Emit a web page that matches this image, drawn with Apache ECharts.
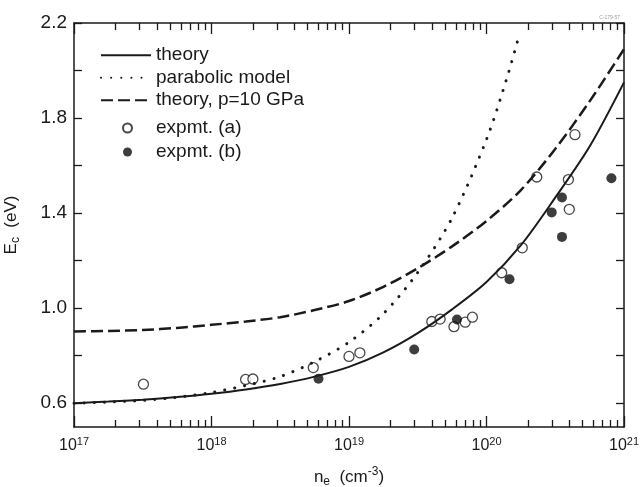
<!DOCTYPE html>
<html>
<head>
<meta charset="utf-8">
<script src="https://cdn.jsdelivr.net/npm/echarts@6/dist/echarts.min.js"></script>
<style>
  html, body { margin: 0; padding: 0; background: #fff; }
  #chart { width: 644px; height: 487px; }
</style>
</head>
<body>
<div id="chart"></div>
<script>
// Electron density (cm^-3), quarter-decade steps, for the model curves
const curveDensity = [1e17, 1.78e17, 3.16e17, 5.62e17, 1e18, 1.78e18, 3.16e18, 5.62e18, 1e19,
                      1.78e19, 3.16e19, 5.62e19, 1e20, 1.78e20, 3.16e20, 5.62e20, 1e21];
// Critical energy E_c (eV), theory at ambient pressure
const theoryEc = [0.600, 0.607, 0.615, 0.626, 0.640, 0.658, 0.681, 0.712, 0.753,
                  0.814, 0.895, 0.995, 1.110, 1.265, 1.465, 1.680, 1.950];
// Theory at p = 10 GPa
const pressureEc = [0.902, 0.904, 0.908, 0.917, 0.930, 0.944, 0.962, 0.992, 1.030,
                    1.090, 1.168, 1.260, 1.367, 1.497, 1.670, 1.870, 2.090];
// Parabolic-band model (leaves the frame near 2e20)
const parabolicDensity = [1e17, 1.78e17, 3.16e17, 5.62e17, 1e18, 1.78e18, 3.16e18, 5.62e18, 1e19,
                          1.78e19, 3.16e19, 5.62e19, 1e20, 1.41e20, 1.75e20];
const parabolicEc = [0.600, 0.605, 0.612, 0.625, 0.645, 0.675, 0.712, 0.775, 0.857,
                     0.977, 1.150, 1.380, 1.710, 1.970, 2.160];

// Measurements: [n_e (cm^-3), E_c (eV)]
const expmtA = [
  [3.2e17, 0.680], [1.77e18, 0.700], [2.0e18, 0.702], [5.5e18, 0.750],
  [1.0e19, 0.797], [1.2e19, 0.812], [4.0e19, 0.944], [4.6e19, 0.954],
  [5.8e19, 0.922], [7.0e19, 0.941], [7.9e19, 0.962], [1.29e20, 1.149],
  [1.82e20, 1.254], [2.32e20, 1.552], [3.94e20, 1.541], [4.0e20, 1.416],
  [4.4e20, 1.730]
];
const expmtB = [
  [6.0e18, 0.703], [2.98e19, 0.826], [6.1e19, 0.952], [1.47e20, 1.122],
  [2.98e20, 1.403], [3.54e20, 1.466], [3.54e20, 1.300], [8.1e20, 1.547]
];

// Axis ticks
const xDecadeExponents = [17, 18, 19, 20, 21];
const yLabelValues = [0.6, 1.0, 1.4, 1.8, 2.2];
const yTickValues = [0.6, 0.8, 1.0, 1.2, 1.4, 1.6, 1.8, 2.0, 2.2];

const FONT = '"Liberation Sans", Arial, Helvetica, sans-serif';
const INK = '#1a1a1a';
const X_MIN = 1e17, X_MAX = 1e21;

// keep the end decades inside the axis extent despite float round-off
const inRange = v => Math.min(Math.max(v, X_MIN * (1 + 1e-9)), X_MAX * (1 - 1e-9));
const xMajor = xDecadeExponents.map(e => inRange(Math.pow(10, e)));
const xMinor = [];
xDecadeExponents.slice(0, -1).forEach(e => {
  for (let k = 2; k <= 9; k++) xMinor.push(k * Math.pow(10, e));
});

const pair = (xs, ys) => xs.map((x, i) => [x, ys[i]]);

function logAxis(position, ticks, tickLen, withLine, withLabels) {
  return {
    type: 'log', logBase: 10, min: X_MIN, max: X_MAX, position: position,
    axisLine: { show: withLine, lineStyle: { color: INK, width: 1.5 } },
    axisTick: { show: true, inside: true, length: tickLen, customValues: ticks,
                lineStyle: { color: INK, width: 1.3 } },
    axisLabel: withLabels ? {
      show: true, customValues: xMajor, margin: 9, showMinLabel: true, showMaxLabel: true,
      hideOverlap: false,
      formatter: v => '{b|10}{s|' + Math.round(Math.log10(v)) + '}',
      rich: {
        b: { fontSize: 16, fontFamily: FONT, color: INK, lineHeight: 20 },
        s: { fontSize: 11, fontFamily: FONT, color: INK, lineHeight: 10, verticalAlign: 'top' }
      }
    } : { show: false },
    splitLine: { show: false },
    minorTick: { show: false },
    name: '', silent: true
  };
}

const xAxes = [logAxis('bottom', xMajor, 11, true, true),
               logAxis('bottom', xMinor, 7, false, false),
               logAxis('top', xMajor, 11, true, false),
               logAxis('top', xMinor, 7, false, false)];
xAxes[0].name = '{n|n}{sb|e}{n|  (cm}{sp|-3}{n|)}';
xAxes[0].nameLocation = 'middle';
xAxes[0].nameGap = 39;
xAxes[0].nameTextStyle = {
  rich: {
    n: { fontSize: 17, fontFamily: FONT, color: INK, lineHeight: 22 },
    sb: { fontSize: 12, fontFamily: FONT, color: INK, lineHeight: 12, verticalAlign: 'bottom' },
    sp: { fontSize: 12, fontFamily: FONT, color: INK, lineHeight: 12, verticalAlign: 'top' }
  }
};

function linAxis(position, withLabels) {
  return {
    type: 'value', min: 0.5, max: 2.2, position: position,
    axisLine: { show: true, lineStyle: { color: INK, width: 1.5 } },
    axisTick: { show: true, inside: true, length: 8, customValues: yTickValues,
                lineStyle: { color: INK, width: 1.3 } },
    axisLabel: withLabels ? {
      show: true, customValues: yLabelValues, margin: 7,
      formatter: v => v.toFixed(1),
      fontSize: 19, fontFamily: FONT, color: INK
    } : { show: false },
    splitLine: { show: false },
    silent: true
  };
}

const yAxes = [linAxis('left', true), linAxis('right', false)];
yAxes[0].name = '{n|E}{sb|c}{n|  (eV)}';
yAxes[0].nameLocation = 'middle';
yAxes[0].nameGap = 52;
yAxes[0].nameRotate = 90;
yAxes[0].nameTextStyle = {
  rich: {
    n: { fontSize: 17, fontFamily: FONT, color: INK, lineHeight: 22 },
    sb: { fontSize: 12, fontFamily: FONT, color: INK, lineHeight: 12, verticalAlign: 'bottom' }
  }
};

const lineBase = { type: 'line', xAxisIndex: 0, yAxisIndex: 0, symbol: 'circle', showSymbol: false,
                   smooth: 0.3, silent: true, animation: false };
// line entries in the legend show only the stroke sample
const lineKey = name => ({ name: name, itemStyle: { opacity: 0 } });

const option = {
  animation: false,
  backgroundColor: '#fff',
  grid: { left: 74, right: 20, top: 23, bottom: 60, containLabel: false, outerBoundsMode: 'none' },
  xAxis: xAxes,
  yAxis: yAxes,
  legend: [
    {
      data: [lineKey('theory'), lineKey('parabolic model'), lineKey('theory, p=10 GPa')],
      orient: 'vertical', left: 100, top: 44, padding: 0, itemGap: 0,
      itemWidth: 50, itemHeight: 14, selectedMode: false,
      textStyle: { fontSize: 19, fontFamily: FONT, color: INK, lineHeight: 22.5 }
    },
    {
      data: ['expmt. (a)', 'expmt. (b)'],
      orient: 'vertical', left: 122, top: 116, padding: 0, itemGap: 0,
      itemWidth: 47, itemHeight: 9, selectedMode: false,
      textStyle: { fontSize: 19, fontFamily: FONT, color: INK, lineHeight: 24 }
    }
  ],
  graphic: [{
    type: 'text', right: 24, top: 15, silent: true,
    style: { text: 'C-179-57', fontSize: 5, fill: '#9a9a9a', fontFamily: FONT }
  }],
  series: [
    Object.assign({}, lineBase, {
      name: 'theory', data: pair(curveDensity, theoryEc),
      lineStyle: { color: INK, width: 2 }, itemStyle: { color: INK }
    }),
    Object.assign({}, lineBase, {
      name: 'parabolic model', data: pair(parabolicDensity, parabolicEc),
      lineStyle: { color: INK, width: 3, type: [0.1, 10], cap: 'round' }, itemStyle: { color: INK }
    }),
    Object.assign({}, lineBase, {
      name: 'theory, p=10 GPa', data: pair(curveDensity, pressureEc),
      lineStyle: { color: INK, width: 2.5, type: [12, 5] }, itemStyle: { color: INK }
    }),
    {
      name: 'expmt. (a)', type: 'scatter', xAxisIndex: 0, yAxisIndex: 0,
      data: expmtA, symbol: 'circle', symbolSize: 10, silent: true,
      itemStyle: { color: '#fff', borderColor: INK, borderWidth: 1.3 }
    },
    {
      name: 'expmt. (b)', type: 'scatter', xAxisIndex: 0, yAxisIndex: 0,
      data: expmtB, symbol: 'circle', symbolSize: 10, silent: true,
      itemStyle: { color: '#0d0d0d' }
    }
  ]
};

const chart = echarts.init(document.getElementById('chart'), null, { renderer: 'canvas' });
chart.setOption(option);
</script>
</body>
</html>
